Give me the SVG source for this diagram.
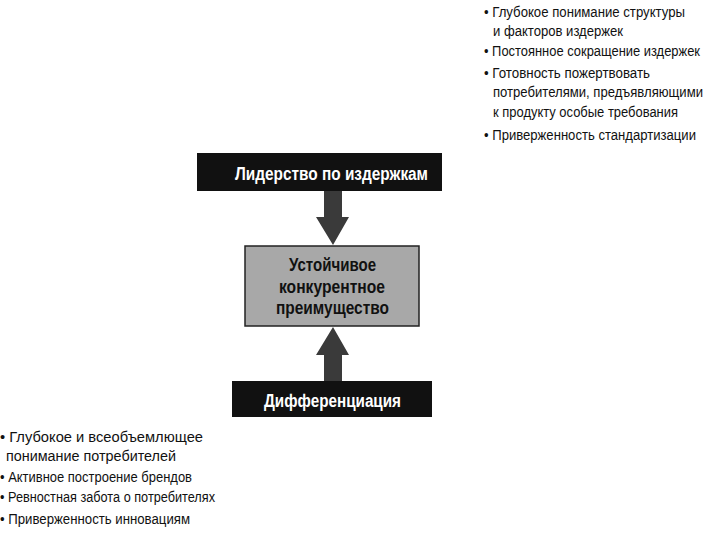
<svg xmlns="http://www.w3.org/2000/svg" width="717" height="533" viewBox="0 0 717 533">
<style>
.l{font-family:"Liberation Sans",sans-serif;font-size:14px;fill:#111}
.b{font-family:"Liberation Sans",sans-serif;font-size:18px;font-weight:bold;fill:#fff}
.g{font-family:"Liberation Sans",sans-serif;font-size:19px;font-weight:bold;fill:#111}
</style>
<rect width="717" height="533" fill="#fff"/>
<g id="list-top">
<text class="l" x="484" y="17" textLength="201" lengthAdjust="spacingAndGlyphs">• Глубокое понимание структуры</text>
<text class="l" x="493" y="36" textLength="130" lengthAdjust="spacingAndGlyphs">и факторов издержек</text>
<text class="l" x="484" y="56" textLength="216" lengthAdjust="spacingAndGlyphs">• Постоянное сокращение издержек</text>
<text class="l" x="484" y="78" textLength="166" lengthAdjust="spacingAndGlyphs">• Готовность пожертвовать</text>
<text class="l" x="493" y="97" textLength="210" lengthAdjust="spacingAndGlyphs">потребителями, предъявляющими</text>
<text class="l" x="493" y="117" textLength="185" lengthAdjust="spacingAndGlyphs">к продукту особые требования</text>
<text class="l" x="484" y="140" textLength="212" lengthAdjust="spacingAndGlyphs">• Приверженность стандартизации</text>
</g>
<g id="cost-leadership">
<rect x="197" y="153" width="245" height="38" fill="#111"/>
<text class="b" x="235" y="180" textLength="193" lengthAdjust="spacingAndGlyphs">Лидерство по издержкам</text>
</g>
<g id="advantage">
<rect x="245" y="246" width="174" height="80" fill="#a8a8a8" stroke="#222" stroke-width="1.5"/>
<text class="g" x="289" y="271" textLength="87" lengthAdjust="spacingAndGlyphs">Устойчивое</text>
<text class="g" x="279" y="293" textLength="106" lengthAdjust="spacingAndGlyphs">конкурентное</text>
<text class="g" x="276" y="314" textLength="113" lengthAdjust="spacingAndGlyphs">преимущество</text>
</g>
<g id="differentiation">
<rect x="232" y="381" width="200" height="36" fill="#111"/>
<text class="b" x="264" y="407" textLength="137" lengthAdjust="spacingAndGlyphs">Дифференциация</text>
</g>
<g id="connectors" fill="#3a3a3a">
<polygon points="324,191 342,191 342,217 349,217 333,245 316,217 324,217"/>
<polygon points="324,381 342,381 342,355 349,355 333,327 316,355 324,355"/>
</g>
<g id="list-bottom">
<text class="l" x="0" y="442" textLength="203" lengthAdjust="spacingAndGlyphs">• Глубокое и всеобъемлющее</text>
<text class="l" x="6" y="461" textLength="170" lengthAdjust="spacingAndGlyphs">понимание потребителей</text>
<text class="l" x="0" y="482" textLength="192" lengthAdjust="spacingAndGlyphs">• Активное построение брендов</text>
<text class="l" x="0" y="502" textLength="215" lengthAdjust="spacingAndGlyphs">• Ревностная забота о потребителях</text>
<text class="l" x="0" y="524" textLength="190" lengthAdjust="spacingAndGlyphs">• Приверженность инновациям</text>
</g>
</svg>
